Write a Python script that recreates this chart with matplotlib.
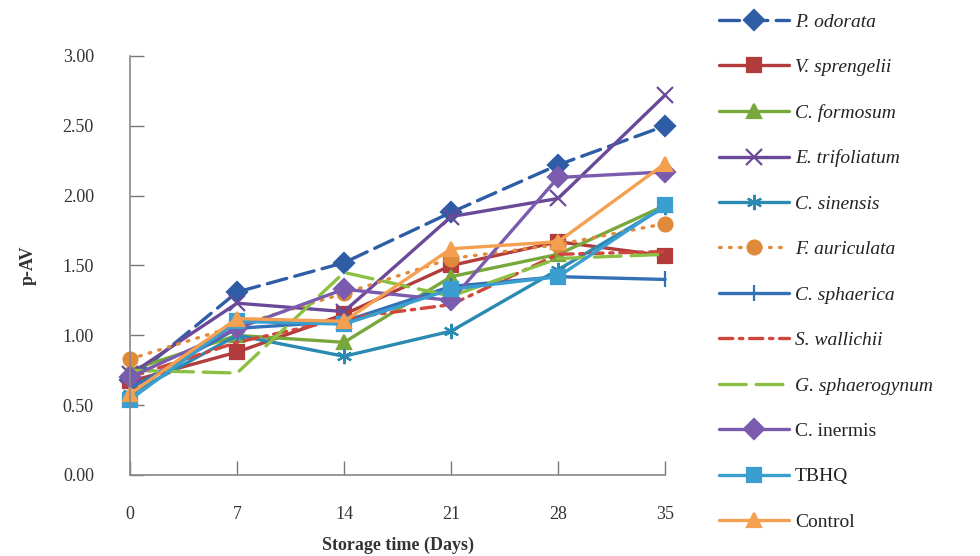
import numpy as np
import matplotlib.pyplot as plt

plt.rcParams['font.family'] = ['Liberation Serif', 'DejaVu Serif']

days = [0, 7, 14, 21, 28, 35]

p_odorata = [0.68, 1.31, 1.52, 1.88, 2.22, 2.50]
v_sprengelii = [0.67, 0.88, 1.15, 1.50, 1.67, 1.57]
c_formosum = [0.75, 1.00, 0.95, 1.42, 1.58, 1.93]
e_trifoliatum = [0.72, 1.23, 1.17, 1.85, 1.98, 2.72]
c_sinensis = [0.58, 1.00, 0.85, 1.03, 1.47, 1.92]
f_auriculata = [0.83, 1.07, 1.30, 1.55, 1.65, 1.80]
c_sphaerica = [0.62, 1.05, 1.10, 1.35, 1.42, 1.40]
s_wallichii = [0.70, 0.95, 1.12, 1.22, 1.58, 1.60]
g_sphaerogynum = [0.75, 0.73, 1.45, 1.28, 1.55, 1.58]
c_inermis = [0.70, 1.05, 1.33, 1.25, 2.13, 2.17]
tbhq = [0.54, 1.10, 1.08, 1.33, 1.42, 1.93]
control = [0.58, 1.12, 1.10, 1.62, 1.67, 2.23]

series = [
    ('P. odorata', p_odorata, '#2E5DA6', (0, (6, 2.5)), 'D', True),
    ('V. sprengelii', v_sprengelii, '#B23B3B', '-', 's', True),
    ('C. formosum', c_formosum, '#78A83C', '-', '^', True),
    ('E. trifoliatum', e_trifoliatum, '#6A4A98', '-', 'x', True),
    ('C. sinensis', c_sinensis, '#2A8AB2', '-', (6, 2, 0), True),
    ('F. auriculata', f_auriculata, '#E08A3C', (0, (0.5, 2.5)), 'o', True),
    ('C. sphaerica', c_sphaerica, '#3470B6', '-', '|', True),
    ('S. wallichii', s_wallichii, '#D0453C', (0, (4, 2, 1, 2)), None, True),
    ('G. sphaerogynum', g_sphaerogynum, '#8CC043', (0, (8, 3)), None, True),
    ('C. inermis', c_inermis, '#7A5BAE', '-', 'D', False),
    ('TBHQ', tbhq, '#3A9ED0', '-', 's', False),
    ('Control', control, '#F5A050', '-', '^', False),
]

fig = plt.figure(figsize=(9.8, 5.56), dpi=100)
ax = fig.add_axes([0.1327, 0.1457, 0.546, 0.7536])

for name, vals, color, ls, marker, italic in series:
    ms = 10
    if marker in ('x', '|', (6, 2, 0)):
        ms = 11
    ax.plot(days, vals, color=color, linestyle=ls, marker=marker,
            markersize=ms, linewidth=2.4, markeredgewidth=1.6,
            dash_capstyle='round', solid_capstyle='round',
            label=name, clip_on=False)

ax.set_xlim(0, 35)
ax.set_ylim(0, 3)
ax.set_xticks(days)
ax.set_yticks(np.arange(0, 3.01, 0.5))
ax.set_yticklabels([f'{v:.2f}' for v in np.arange(0, 3.01, 0.5)])
ax.tick_params(direction='in', length=10, width=1, color='#777777',
               labelsize=13, labelcolor='#333333')
ax.tick_params(axis='y', pad=26)
ax.tick_params(axis='x', pad=22)
for side in ('top', 'right'):
    ax.spines[side].set_visible(False)
for side in ('left', 'bottom'):
    ax.spines[side].set_color('#888888')
    ax.spines[side].set_linewidth(1.2)

ax.set_xlabel('Storage time (Days)', fontsize=13, fontweight='bold',
              color='#333333', labelpad=10)
ax.set_ylabel('p-AV', fontsize=13, fontweight='bold', color='#333333')
ax.yaxis.set_label_coords(-0.175, 0.5)

leg = fig.legend(loc='upper left', bbox_to_anchor=(0.716, 1.008),
                 frameon=False, fontsize=14, handlelength=3.6,
                 labelspacing=1.43, handletextpad=0.3)
for text, (name, vals, color, ls, marker, italic) in zip(leg.get_texts(), series):
    text.set_color('#222222')
    if italic:
        text.set_fontstyle('italic')

fig.savefig('out.png', dpi=100)
